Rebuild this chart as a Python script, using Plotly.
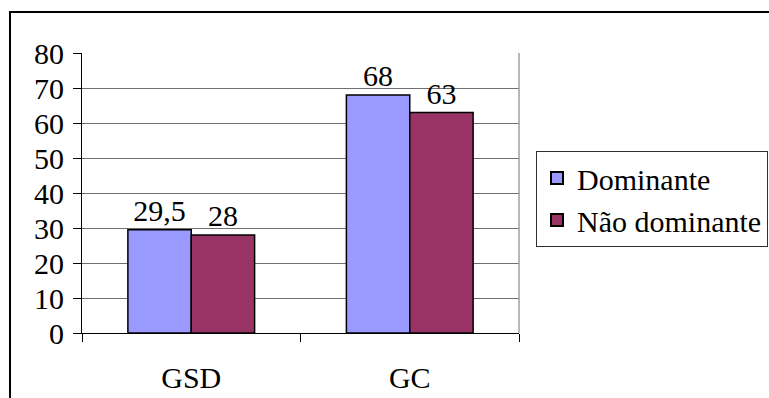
import plotly.graph_objects as go

# Chart data
groups = ["GSD", "GC"]
series_names = ["Dominante", "Não dominante"]
dominante = [29.5, 68]
nao_dominante = [28, 63]
dominante_labels = ["29,5", "68"]
nao_dominante_labels = ["28", "63"]
y_ticks = [0, 10, 20, 30, 40, 50, 60, 70, 80]

colors = ["#9999FF", "#993366"]
FONT = "Liberation Serif"
FS = 30

W, H = 769, 398
ML, MR, MT, MB = 82, 250, 53, 65
PW = W - ML - MR
PH = H - MT - MB

xpos = list(range(len(groups)))

fig = go.Figure()
for name, vals, labels, col in [
    (series_names[0], dominante, dominante_labels, colors[0]),
    (series_names[1], nao_dominante, nao_dominante_labels, colors[1]),
]:
    fig.add_trace(go.Bar(
        x=xpos, y=vals, name=name,
        marker=dict(color=col, line=dict(color="#000000", width=1.5)),
        text=labels, textposition="outside", cliponaxis=False,
        constraintext="none",
        textfont=dict(family=FONT, size=FS, color="#000000"),
    ))

# invisible trace carrying the category-boundary ticks
fig.add_trace(go.Scatter(x=[-0.5, 1.5], y=[0, 0], xaxis="x2", mode="markers",
                         marker=dict(opacity=0), showlegend=False, hoverinfo="skip"))

def px_x(px):
    return (px - ML) / PW

def px_y(px):
    return (H - MB - px) / PH

fig.update_layout(
    width=W, height=H,
    margin=dict(l=ML, r=MR, t=MT, b=MB, autoexpand=False),
    paper_bgcolor="white", plot_bgcolor="white",
    barmode="group", bargap=0.42, bargroupgap=0,
    font=dict(family=FONT, size=FS, color="#000000"),
    xaxis=dict(range=[-0.5, 1.5], tickvals=xpos, ticktext=groups,
               ticks="", showgrid=False, zeroline=False,
               showline=True, linecolor="#000000", linewidth=1,
               ticklabelstandoff=18,
               tickfont=dict(family=FONT, size=FS, color="#000000")),
    xaxis2=dict(range=[-0.5, 1.5], overlaying="x", anchor="y", side="bottom",
                tickvals=[-0.5, 0.5, 1.5], ticks="outside", ticklen=8,
                tickcolor="#000000", tickwidth=1,
                showticklabels=False, showgrid=False, zeroline=False, showline=False),
    yaxis=dict(range=[0, 80], tickvals=y_ticks, ticks="outside", ticklen=8,
               tickcolor="#000000", tickwidth=1,
               showline=True, linecolor="#000000", linewidth=1,
               showgrid=True, gridcolor="#6e6e6e", gridwidth=1.2,
               zeroline=False, ticklabelstandoff=3,
               tickfont=dict(family=FONT, size=FS, color="#000000")),
    legend=dict(x=px_x(536), y=px_y(151), xanchor="left", yanchor="top",
                bordercolor="#303030", borderwidth=1, bgcolor="white",
                font=dict(family=FONT, size=FS, color="#000000"),
                itemsizing="constant", tracegroupgap=0),
    showlegend=True,
    shapes=[
        # right edge of the plot area
        dict(type="line", xref="paper", yref="paper", x0=1, x1=1, y0=0, y1=1,
             line=dict(color="#a0a0a0", width=1.5)),
        # chart frame
        dict(type="rect", xref="paper", yref="paper",
             x0=px_x(10), x1=px_x(780), y0=px_y(410), y1=px_y(12),
             line=dict(color="#000000", width=2), layer="below"),
    ],
)

fig.write_html("out.html")
